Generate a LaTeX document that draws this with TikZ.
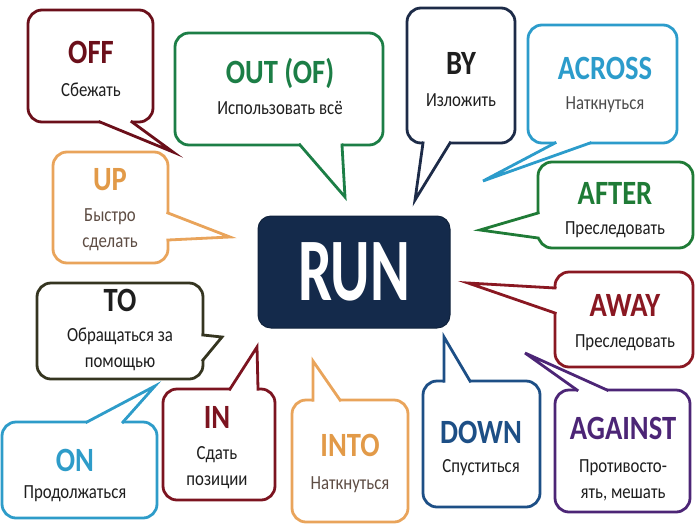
\documentclass[tikz,border=0pt]{standalone}
\usepackage{fontspec}
\setmainfont{Carlito}[FakeStretch=0.84]
\usepackage{graphicx}
\usepackage{xcolor}

\definecolor{offred}{HTML}{6B0F1A}
\definecolor{outgreen}{HTML}{1C7E46}
\definecolor{bynavy}{HTML}{1D2B48}
\definecolor{acrossblue}{HTML}{2C9CCB}
\definecolor{upor}{HTML}{E9A45B}
\definecolor{uptext}{HTML}{E29A48}
\definecolor{softbrown}{HTML}{5E4D44}
\definecolor{aftergreen}{HTML}{1F7B36}
\definecolor{runnavy}{HTML}{142A4B}
\definecolor{toolive}{HTML}{353520}
\definecolor{awayred}{HTML}{8A1822}
\definecolor{inred}{HTML}{7C1420}
\definecolor{downblue}{HTML}{1D4F86}
\definecolor{againstpurple}{HTML}{4C2576}
\definecolor{onblue}{HTML}{2E9CC9}
\definecolor{ink}{HTML}{1E1E1E}

\begin{document}
\begin{tikzpicture}[x=1pt, y=-1pt]
\tikzstyle{bubble} = [rectangle, rounded corners=14pt, line width=2.8pt, fill=white, inner sep=0pt]
\tikzstyle{tail} = [line width=2.8pt, line join=miter, shorten <=-1.5pt, shorten >=-1.5pt]
\tikzstyle{head} = [font=\fontsize{34}{36}\selectfont\bfseries, inner sep=0pt]
\tikzstyle{gloss} = [font=\fontsize{20}{26}\selectfont, align=center, text=ink, inner sep=0pt]

\useasboundingbox (0,0) rectangle (700,525);

% left column
\node (off) [bubble, draw=offred, minimum width=125, minimum height=112] at (90.5,66) {};
\fill[white] (100,119) -- (100,122) -- (173,152) -- (132,122) -- (132,119) -- cycle;
\draw[tail, offred] (100,122) -- (173,152) -- (132,122);
\node (offhead) [head, text=offred] at (91,52) {OFF};
\node (offtext) [gloss] at (91,90) {Сбежать};

\node (up) [bubble, draw=upor, minimum width=115, minimum height=111] at (110.5,207.5) {};
\fill[white] (165,213) -- (168,213) -- (230,237) -- (168,240) -- (165,240) -- cycle;
\draw[tail, upor] (168,213) -- (230,237) -- (168,240);
\node (uphead) [head, text=uptext] at (110,180) {UP};
\node (uptext) [gloss, text=softbrown] at (110,230) {Быстро\\сделать};

\node (to) [bubble, draw=toolive, minimum width=166, minimum height=96] at (120,331) {};
\fill[white] (200,335) -- (203,335) -- (222,337) -- (203,360) -- (200,360) -- cycle;
\draw[tail, toolive] (203,335) -- (222,337) -- (203,360);
\node (tohead) [head, text=ink] at (120,300) {TO};
\node (totext) [gloss] at (120,349.5) {Обращаться за\\помощью};

\node (on) [bubble, draw=onblue, minimum width=155, minimum height=96] at (79.5,470) {};
\fill[white] (87,425) -- (87,422) -- (155,386) -- (123,422) -- (123,425) -- cycle;
\draw[tail, onblue] (87,422) -- (155,386) -- (123,422);
\node (onhead) [head, text=onblue] at (75,460) {ON};
\node (ontext) [gloss] at (75,494) {Продолжаться};

% top row
\node (out) [bubble, draw=outgreen, minimum width=208, minimum height=112] at (279,89) {};
\fill[white] (300,142) -- (300,145) -- (345,197) -- (342,145) -- (342,142) -- cycle;
\draw[tail, outgreen] (300,145) -- (345,197) -- (342,145);
\node (outhead) [head, text=outgreen] at (280,73) {OUT (OF)};
\node (outtext) [gloss] at (280,108) {Использовать всё};

\node (by) [bubble, draw=bynavy, minimum width=108, minimum height=135] at (461,75.5) {};
\fill[white] (423,140) -- (423,143) -- (415,200) -- (450,143) -- (450,140) -- cycle;
\draw[tail, bynavy] (423,143) -- (415,200) -- (450,143);
\node (byhead) [head, text=ink] at (461,63) {BY};
\node (bytext) [gloss] at (461,100) {Изложить};

\node (across) [bubble, draw=acrossblue, minimum width=149, minimum height=118] at (602.5,84) {};
\fill[white] (555,140) -- (555,143) -- (483,181) -- (590,143) -- (590,140) -- cycle;
\draw[tail, acrossblue] (555,143) -- (483,181) -- (590,143);
\node (acrosshead) [head, text=acrossblue] at (605,68) {ACROSS};
\node (acrosstext) [gloss, text=ink!80] at (605,105) {Наткнуться};

% right column
\node (after) [bubble, draw=aftergreen, minimum width=155, minimum height=86] at (615.5,205) {};
\fill[white] (541,213) -- (538,213) -- (480,230) -- (538,238) -- (541,238) -- cycle;
\draw[tail, aftergreen] (538,213) -- (480,230) -- (538,238);
\node (afterhead) [head, text=aftergreen] at (615,193) {AFTER};
\node (aftertext) [gloss] at (615,230) {Преследовать};

\node (away) [bubble, draw=awayred, minimum width=138, minimum height=95] at (624,319.5) {};
\fill[white] (558,288) -- (555,288) -- (468,283) -- (555,313) -- (558,313) -- cycle;
\draw[tail, awayred] (555,288) -- (468,283) -- (555,313);
\node (awayhead) [head, text=awayred] at (625,305) {AWAY};
\node (awaytext) [gloss] at (625,343) {Преследовать};

% bottom row
\node (in) [bubble, draw=inred, minimum width=112, minimum height=111] at (219,444.5) {};
\fill[white] (230,392) -- (230,389) -- (257,347) -- (258,389) -- (258,392) -- cycle;
\draw[tail, inred] (230,389) -- (257,347) -- (258,389);
\node (inhead) [head, text=inred] at (217,417) {IN};
\node (intext) [gloss] at (217,468) {Сдать\\позиции};

\node (into) [bubble, draw=upor, minimum width=116, minimum height=122] at (350,461) {};
\fill[white] (313,403) -- (313,400) -- (313,361) -- (340,400) -- (340,403) -- cycle;
\draw[tail, upor] (313,400) -- (313,361) -- (340,400);
\node (intohead) [head, text=uptext] at (350,445) {INTO};
\node (intotext) [gloss, text=softbrown] at (350,485) {Наткнуться};

\node (down) [bubble, draw=downblue, minimum width=117, minimum height=126] at (481.5,444) {};
\fill[white] (444,384) -- (444,381) -- (444,337) -- (470,381) -- (470,384) -- cycle;
\draw[tail, downblue] (444,381) -- (444,337) -- (470,381);
\node (downhead) [head, text=downblue] at (481,432) {DOWN};
\node (downtext) [gloss] at (481,468) {Спуститься};

\node (against) [bubble, draw=againstpurple, minimum width=135, minimum height=122] at (622.5,451) {};
\fill[white] (577,393) -- (577,390) -- (525,353) -- (607,390) -- (607,393) -- cycle;
\draw[tail, againstpurple] (577,390) -- (525,353) -- (607,390);
\node (againsthead) [head, text=againstpurple] at (623,428) {AGAINST};
\node (againsttext) [gloss] at (623,480) {Противосто-\\ять, мешать};

% centre
\node (run) [rectangle, rounded corners=13pt, fill=runnavy, draw=runnavy!80!black, line width=1pt, minimum width=192, minimum height=112] at (354,272) {};
\node (runtext) [text=white, font=\fontsize{72}{72}\selectfont\bfseries, inner sep=0pt] at (354,272) {\scalebox{1}[1.24]{RUN}};
\end{tikzpicture}
\end{document}
